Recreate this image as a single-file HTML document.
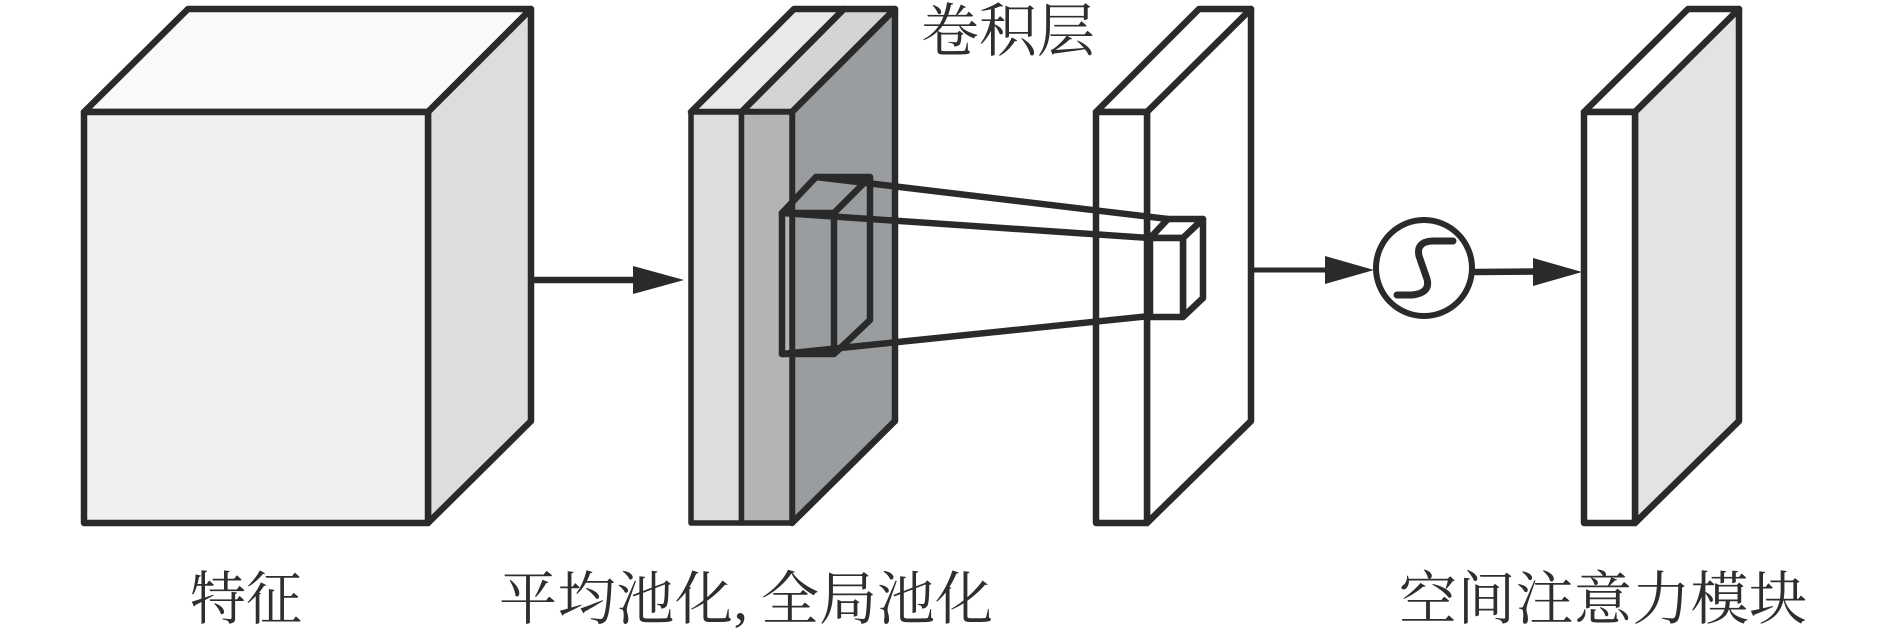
<!DOCTYPE html>
<html><head><meta charset="utf-8"><style>
html,body{margin:0;padding:0;background:#fff;width:1890px;height:637px;overflow:hidden}
svg{display:block}
text{font-family:"Liberation Serif","Noto Serif CJK SC",serif;fill:#2f2e2f;font-size:58px}
</style></head><body>
<svg width="1890" height="637" viewBox="0 0 1890 637" xmlns="http://www.w3.org/2000/svg">
<g stroke="#2b2a2b" stroke-width="6.5" stroke-linejoin="round" stroke-linecap="round">
<!-- cube 1 -->
<polygon points="84,112 428,112 531,9 188,9" fill="#f8f9f8"/>
<polygon points="428,112 531,9 531,421 428,523" fill="#dcddde"/>
<rect x="84" y="112" width="344" height="411" fill="#f0f0f1"/>
<!-- slab 2 -->
<polygon points="691,112 741.5,112 844,9 794,9" fill="#e8e9e9"/>
<polygon points="741.5,112 792,112 895,9 844,9" fill="#d2d4d5"/>
<polygon points="792,112 895,9 895,421 792,523" fill="#9a9d9f"/>
<rect x="691" y="112" width="50.5" height="411" fill="#dcddde" stroke-width="5.5"/>
<rect x="741.5" y="112" width="50.5" height="411" fill="#b2b4b6" stroke-width="5.5"/>
<!-- slab 3 -->
<polygon points="1096,112 1147,112 1251,9 1199,9" fill="#fff"/>
<polygon points="1147,112 1251,9 1251,421 1147,523" fill="#fff"/>
<rect x="1096" y="112" width="51" height="411" fill="#fff"/>
<!-- slab 4 -->
<polygon points="1584,112 1635,112 1739,9 1688,9" fill="#fff"/>
<polygon points="1635,112 1739,9 1739,421 1635,523" fill="#e1e3e4"/>
<rect x="1584" y="112" width="51" height="411" fill="#fff"/>
<!-- small box in slab 2 -->
<g fill="none">
<polyline points="782,213 816,177 870,177 870,320 834,354 782,354 782,213 834,213 834,354"/>
<line x1="834" y1="213" x2="870" y2="177"/>
<line x1="816" y1="177" x2="1168" y2="219"/>
<line x1="782" y1="213" x2="1150" y2="238"/>
<line x1="782" y1="354" x2="1150" y2="316"/>
</g>
<!-- small box in slab 3 -->
<polygon points="1150,238 1168,219 1203,219 1183,238" fill="#fff"/>
<polygon points="1183,238 1203,219 1203,298 1183,317" fill="#fff"/>
<rect x="1150" y="238" width="33" height="79" fill="#fff"/>
<!-- arrows -->
<line x1="531" y1="280" x2="640" y2="280"/>
<line x1="1252" y1="270" x2="1330" y2="270" stroke-width="5"/>
<line x1="1476" y1="272" x2="1540" y2="271.5"/>
<!-- circle -->
<circle cx="1424" cy="268" r="48" fill="#fff" stroke-width="6"/>
<path d="M1453,241 L1434,241 C1421,241 1417,247 1419,256 L1427,279 C1430,290 1422,294 1412,295 L1397,295" fill="none" stroke-width="7"/>
</g>
<g fill="#2b2a2b">
<polygon points="633,266 684,280 633,294"/>
<polygon points="1325,256 1374,270 1325,284"/>
<polygon points="1533,258 1582,272 1533,286"/>
</g>
<text x="190" y="619" textLength="112" lengthAdjust="spacingAndGlyphs">特征</text>
<text x="499" y="619" textLength="249">平均池化,</text>
<text x="761" y="619" textLength="232">全局池化</text>
<text x="921" y="51" textLength="174">卷积层</text>
<text x="1399" y="619" textLength="408">空间注意力模块</text>
</svg>
</body></html>
